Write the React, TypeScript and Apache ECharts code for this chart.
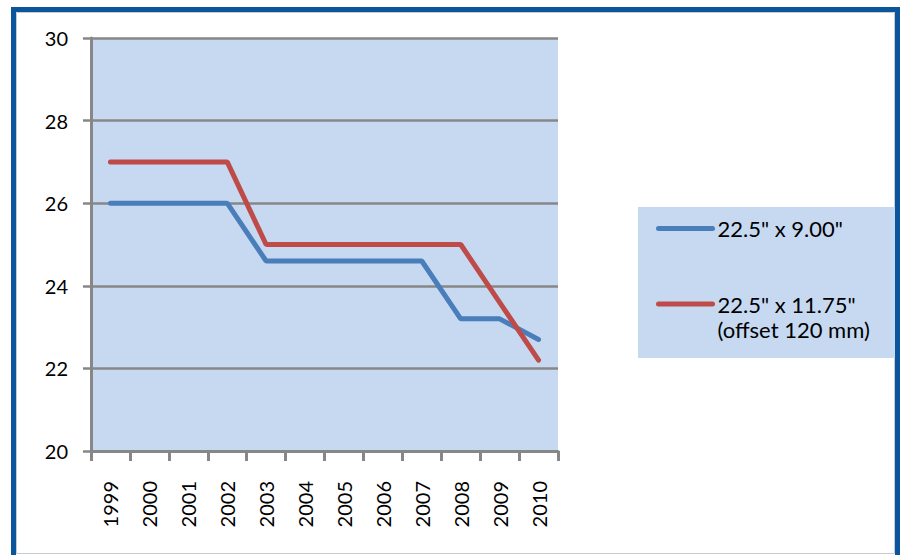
import React, { useEffect, useRef } from 'react';
import * as echarts from 'echarts';

const years = ['1999', '2000', '2001', '2002', '2003', '2004', '2005', '2006', '2007', '2008', '2009', '2010'];
const valuesA = [26, 26, 26, 26, 24.6, 24.6, 24.6, 24.6, 24.6, 23.2, 23.2, 22.7];
const valuesB = [27, 27, 27, 27, 25, 25, 25, 25, 25, 25, 23.6, 22.2];
const nameA = '22.5" x 9.00"';
const nameB = '22.5" x 11.75"\n(offset 120 mm)';
const yMin = 20;
const yMax = 30;
const yStep = 2;

const BLUE = '#4a7ebb';
const RED = '#be4b48';
const GRID = '#878787';
const PLOT_BG = '#c6d9f1';
const FONT = 'Lato';

export default function App() {
  const ref = useRef<HTMLDivElement>(null);
  useEffect(() => {
    if (!ref.current) return;
    const chart = echarts.init(ref.current, undefined, { renderer: 'svg' });
    chart.setOption({
      animation: false,
      backgroundColor: '#ffffff',
      graphic: [
        {
          type: 'rect',
          shape: { x: 13.5, y: 9.5, width: 884, height: 600 },
          style: { fill: 'none', stroke: '#0a559b', lineWidth: 5 },
          silent: true,
        },
        {
          type: 'rect',
          shape: { x: 16.5, y: 12.5, width: 878, height: 541 },
          style: { fill: 'none', stroke: '#c4ccd4', lineWidth: 1 },
          silent: true,
        },
        {
          type: 'rect',
          shape: { x: 638, y: 207, width: 257, height: 151 },
          style: { fill: PLOT_BG },
          silent: true,
        },
      ],
      grid: {
        left: 91,
        top: 38,
        width: 467,
        height: 413,
        show: true,
        backgroundColor: PLOT_BG,
        borderWidth: 0,
        containLabel: false,
      },
      legend: {
        orient: 'vertical',
        left: 656,
        top: 216,
        padding: 0,
        itemWidth: 54,
        itemHeight: 26,
        itemGap: 25.5,
        lineStyle: { width: 5, cap: 'round' },
        itemStyle: { opacity: 0 },
        textStyle: { fontFamily: FONT, fontSize: 22, color: '#000', lineHeight: 25 },
        formatter: (name: string) => (name === nameB ? ' \n' + name : name),
        data: [nameA, nameB],
      },
      xAxis: {
        type: 'category',
        data: years,
        boundaryGap: true,
        axisLine: { show: true, lineStyle: { color: GRID, width: 3 } },
        axisTick: { show: true, length: 10, lineStyle: { color: GRID, width: 3 } },
        axisLabel: { rotate: 90, margin: 30, fontFamily: FONT, fontSize: 20, color: '#000' },
        splitLine: { show: false },
      },
      yAxis: {
        type: 'value',
        min: yMin,
        max: yMax,
        interval: yStep,
        axisLine: { show: true, lineStyle: { color: GRID, width: 3 } },
        axisTick: { show: true, length: 8, lineStyle: { color: GRID, width: 2.5 } },
        axisLabel: { margin: 23, fontFamily: FONT, fontSize: 20, color: '#000' },
        splitLine: { show: true, lineStyle: { color: GRID, width: 2.5 } },
      },
      series: [
        {
          name: nameA,
          type: 'line',
          data: valuesA,
          symbol: 'none',
          showSymbol: false,
          lineStyle: { color: BLUE, width: 5, cap: 'round' },
          itemStyle: { color: BLUE },
          z: 3,
        },
        {
          name: nameB,
          type: 'line',
          data: valuesB,
          symbol: 'none',
          showSymbol: false,
          lineStyle: { color: RED, width: 5, cap: 'round' },
          itemStyle: { color: RED },
          z: 4,
        },
      ],
    });
    return () => chart.dispose();
  }, []);
  return (
    <div
      ref={ref}
      style={{ position: 'absolute', left: 0, top: 0, width: 903, height: 555, background: '#fff' }}
    />
  );
}
